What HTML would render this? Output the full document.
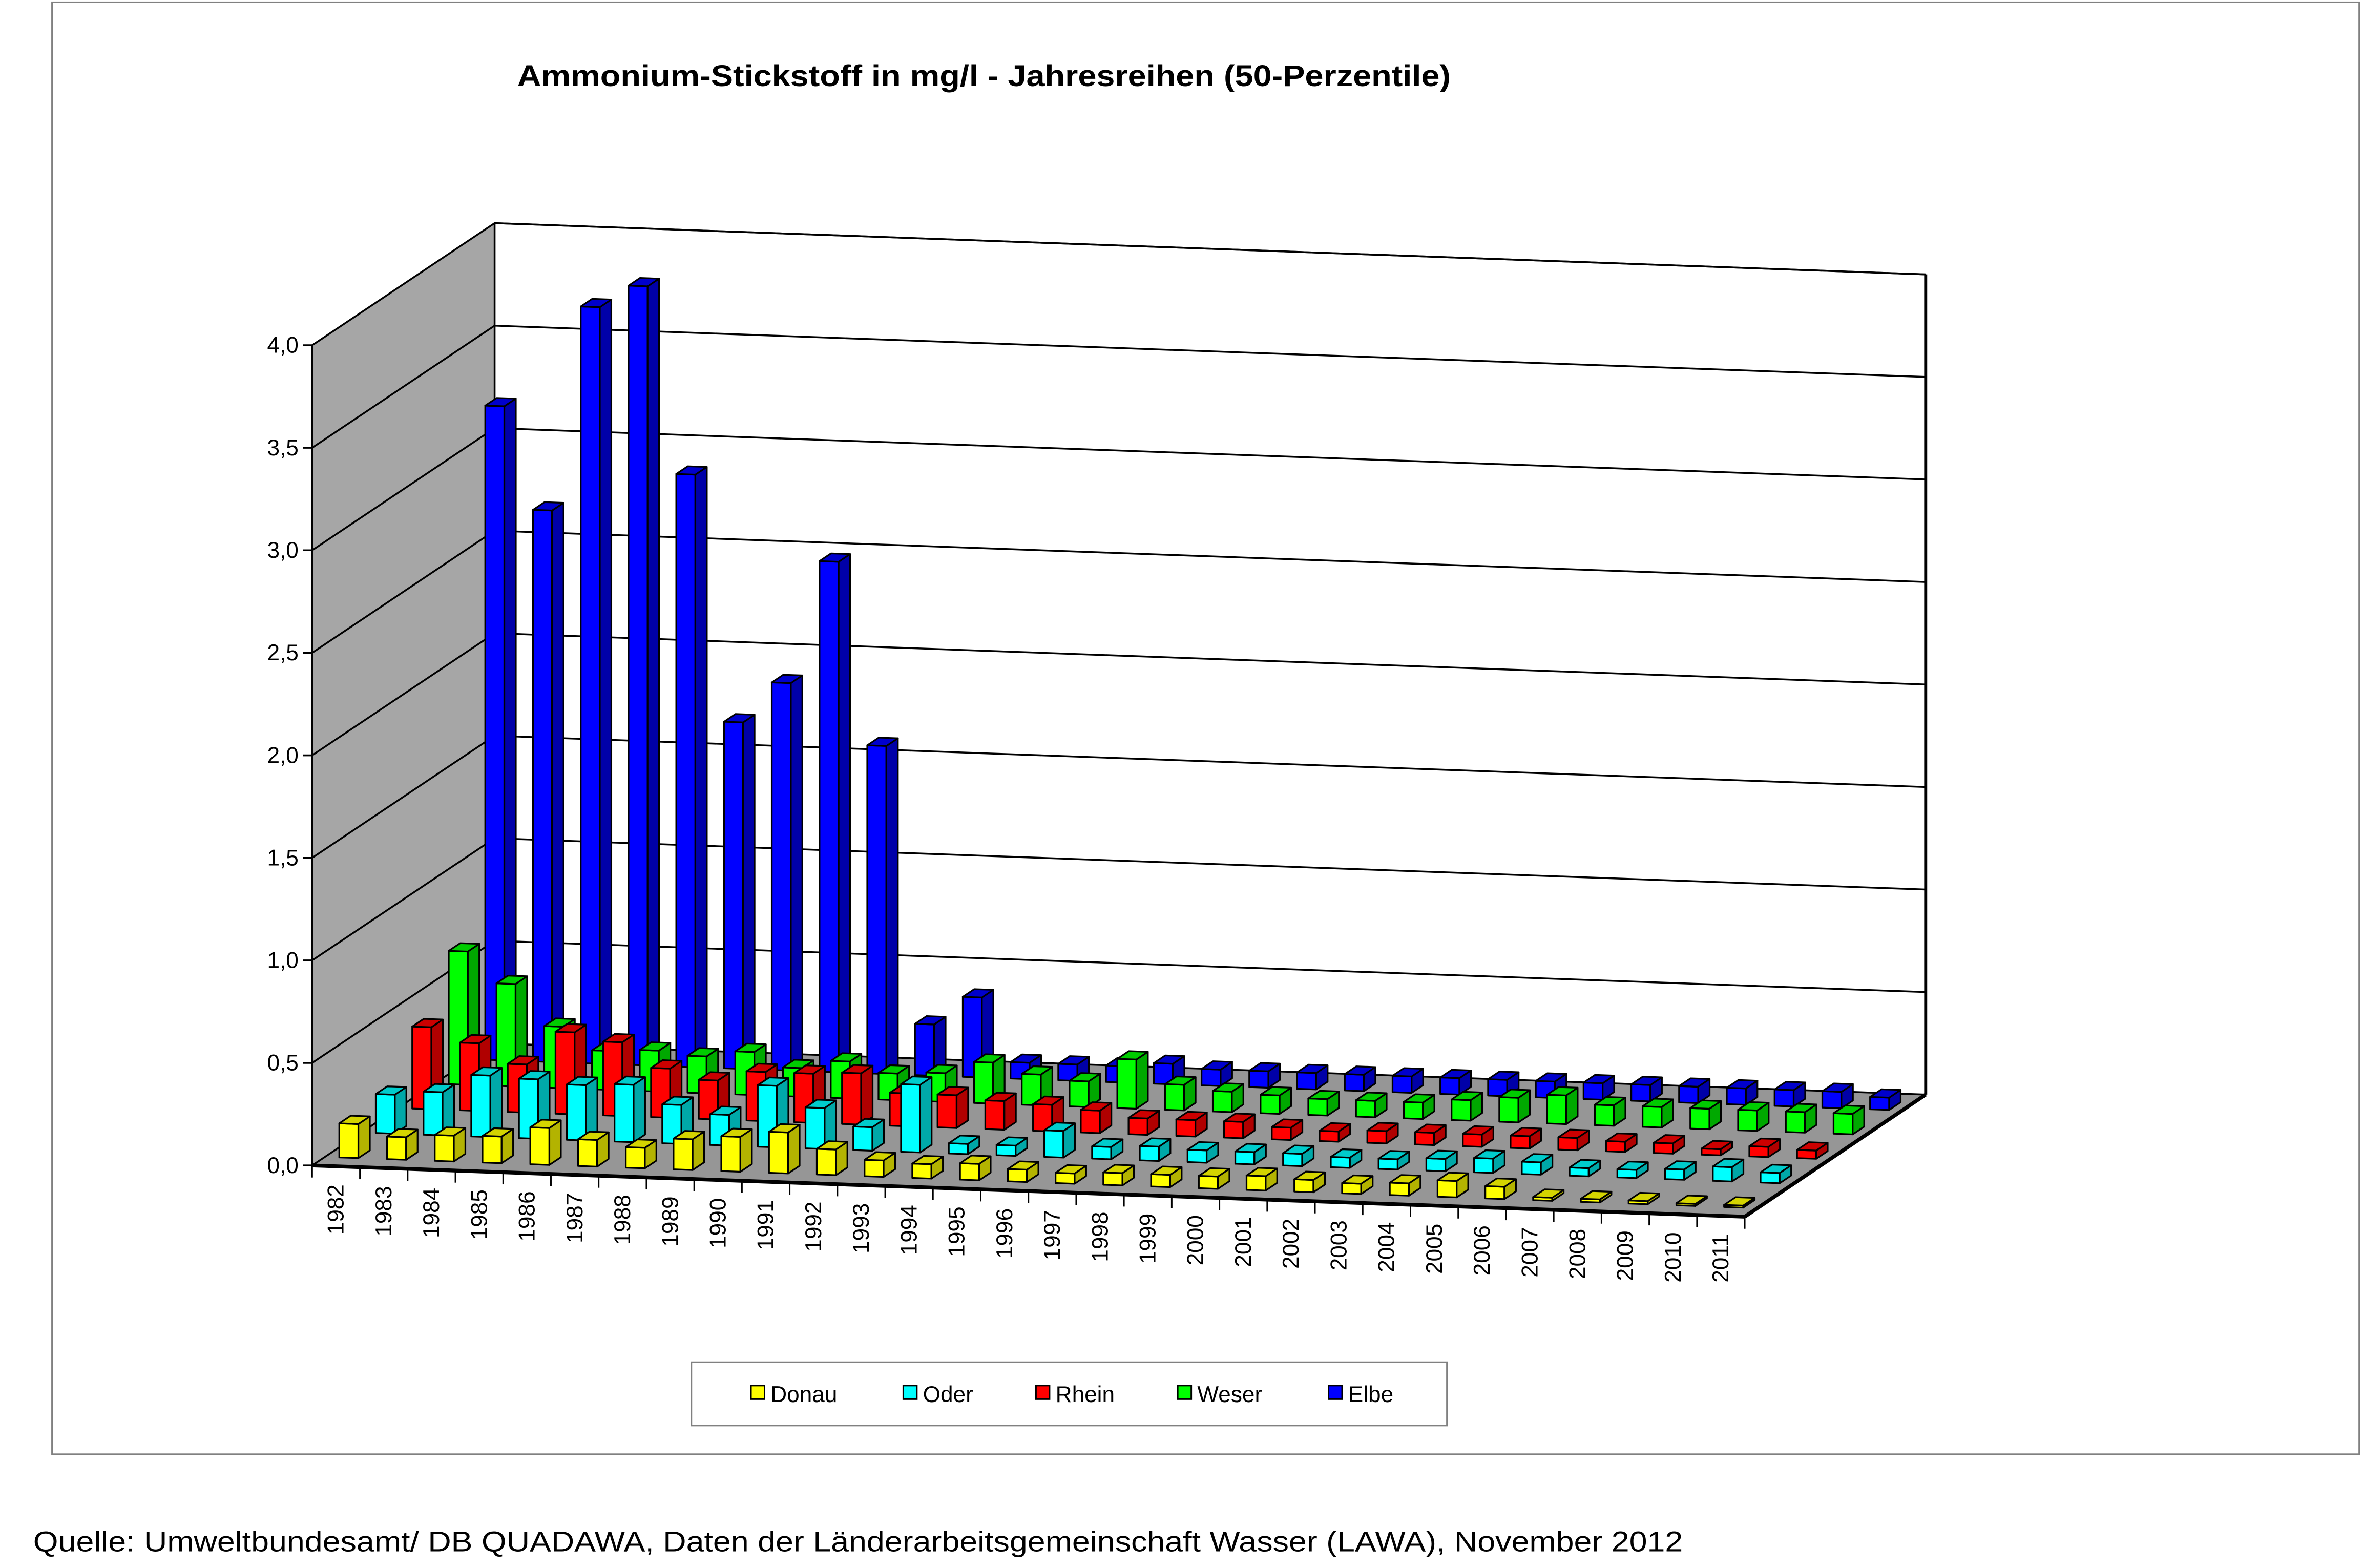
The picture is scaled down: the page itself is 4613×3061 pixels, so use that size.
<!DOCTYPE html>
<html><head><meta charset="utf-8">
<style>html,body{margin:0;padding:0;background:#fff;}svg{display:block;}</style>
</head><body>
<svg id="s" xmlns="http://www.w3.org/2000/svg" width="4613" height="3061" viewBox="0 0 1567 1040" preserveAspectRatio="none" font-family="Liberation Sans, Arial, sans-serif">
<rect x="0" y="0" width="1567" height="1040" fill="#fff"/>
<rect x="34.5" y="1.5" width="1530" height="963" fill="none" stroke="#808080" stroke-width="1"/>
<text x="343" y="57" font-size="20" font-weight="bold" textLength="619" lengthAdjust="spacingAndGlyphs">Ammonium-Stickstoff in mg/l - Jahresreihen (50-Perzentile)</text>
<polygon points="207,229 328,148 328,692 207,773" fill="#a6a6a6" stroke="#000" stroke-width="1"/>
<polygon points="207,773 328,692 1277,726 1157,807" fill="#969696"/>
<g id="grid" stroke="#000" stroke-width="1.2" fill="none"></g>
<line x1="328" y1="148" x2="1277" y2="182" stroke="#000" stroke-width="1.2"/>
<line x1="1277" y1="182" x2="1277" y2="726" stroke="#000" stroke-width="2"/>
<line x1="328" y1="148" x2="328" y2="692" stroke="#000" stroke-width="1.2"/>
<g id="bars" stroke="#000" stroke-width="1.1" stroke-linejoin="round"></g>
<line x1="207" y1="229" x2="207" y2="773" stroke="#000" stroke-width="1.2"/>
<line x1="207" y1="773" x2="1157" y2="807" stroke="#000" stroke-width="2.5"/>
<line x1="1157" y1="807" x2="1277" y2="726" stroke="#000" stroke-width="2.5"/>
<g id="ylab" font-size="15" text-anchor="end"></g>
<g id="xlab" font-size="15"></g>
<rect x="458.5" y="903.5" width="501" height="42" fill="none" stroke="#808080" stroke-width="1"/>
<g font-size="15" stroke="#000" stroke-width="1">
<rect x="498" y="919" width="9" height="9" fill="#ffff00"/>
<rect x="599" y="919" width="9" height="9" fill="#00ffff"/>
<rect x="687" y="919" width="9" height="9" fill="#ff0000"/>
<rect x="781" y="919" width="9" height="9" fill="#00ff00"/>
<rect x="881" y="919" width="9" height="9" fill="#0000ff"/>
</g>
<g font-size="15">
<text x="511" y="930">Donau</text>
<text x="612" y="930">Oder</text>
<text x="700" y="930">Rhein</text>
<text x="794" y="930">Weser</text>
<text x="894" y="930">Elbe</text>
</g>
<text x="22" y="1029" font-size="19" textLength="1094" lengthAdjust="spacingAndGlyphs">Quelle: Umweltbundesamt/ DB QUADAWA, Daten der Länderarbeitsgemeinschaft Wasser (LAWA), November 2012</text>
</svg>
<script>
(function(){
var NS="http://www.w3.org/2000/svg";
function P(c,d,v){return [207+31.667*c+121*d, 773+1.1333*c-81*d-136*v];}
function el(t,a,p){var e=document.createElementNS(NS,t);for(var k in a)e.setAttribute(k,a[k]);p.appendChild(e);return e;}
function pts(a){return a.map(function(p){return p[0].toFixed(2)+","+p[1].toFixed(2);}).join(" ");}
var grid=document.getElementById("grid"),ylab=document.getElementById("ylab"),xlab=document.getElementById("xlab");
for(var g=0;g<=8;g++){var v=g*0.5;var y0=773-136*v,y1=692-136*v,y2=726-136*v;
 el("polyline",{points:"207,"+y0+" 328,"+y1+" 1277,"+y2},grid);
 el("line",{x1:201,y1:y0,x2:207,y2:y0,stroke:"#000"},grid);
 var t=el("text",{x:198,y:y0+5},ylab);t.textContent=v.toFixed(1).replace(".",",");}
for(var i=0;i<=30;i++){var p=P(i,0,0);el("line",{x1:p[0],y1:p[1],x2:p[0],y2:p[1]+8,stroke:"#000","stroke-width":1},grid);}
for(var i=0;i<30;i++){var p=P(i+0.5,0,0);var x=p[0]+5,y=p[1]+12;
 var t=el("text",{x:x,y:y,transform:"rotate(-90 "+x+" "+y+")","text-anchor":"end"},xlab);t.textContent=String(1982+i);}
var data=[
[.166,.11,.126,.13,.18,.13,.10,.15,.17,.20,.125,.08,.07,.08,.06,.05,.06,.06,.06,.07,.06,.05,.06,.08,.06,.015,.015,.015,.01,.01],
[.19,.21,.30,.29,.27,.28,.19,.15,.30,.20,.115,.33,.05,.05,.13,.06,.07,.06,.06,.06,.05,.05,.06,.07,.06,.04,.04,.05,.07,.05],
[.40,.33,.235,.40,.36,.24,.19,.24,.24,.25,.16,.16,.14,.13,.11,.08,.08,.08,.06,.05,.06,.06,.06,.06,.06,.05,.05,.03,.05,.04],
[.65,.50,.30,.19,.20,.18,.21,.14,.18,.13,.14,.20,.15,.125,.24,.125,.10,.09,.08,.08,.08,.10,.12,.14,.10,.10,.10,.10,.10,.10],
[3.19,2.69,3.69,3.80,2.89,1.69,1.89,2.49,1.60,.25,.39,.08,.08,.08,.10,.08,.08,.08,.08,.08,.08,.08,.08,.08,.08,.08,.08,.08,.08,.06]];
var cols=[["#ffff00","#b3b300","#d4d400"],["#00ffff","#00a8a8","#00cccc"],["#ff0000","#b00000","#cc0000"],["#00ff00","#00a800","#00cc00"],["#0000ff","#0000a8","#0000cc"]];
var bars=document.getElementById("bars");
for(var k=4;k>=0;k--){var d0=0.07+0.2*k,d1=d0+0.063;
 for(var i=0;i<30;i++){var v=data[k][i],c0=i+0.3,c1=i+0.7;
  el("polygon",{points:pts([P(c0,d0,0),P(c1,d0,0),P(c1,d0,v),P(c0,d0,v)]),fill:cols[k][0]},bars);
  el("polygon",{points:pts([P(c1,d0,0),P(c1,d1,0),P(c1,d1,v),P(c1,d0,v)]),fill:cols[k][1]},bars);
  el("polygon",{points:pts([P(c0,d0,v),P(c1,d0,v),P(c1,d1,v),P(c0,d1,v)]),fill:cols[k][2]},bars);}}
})();
</script>
</body></html>
